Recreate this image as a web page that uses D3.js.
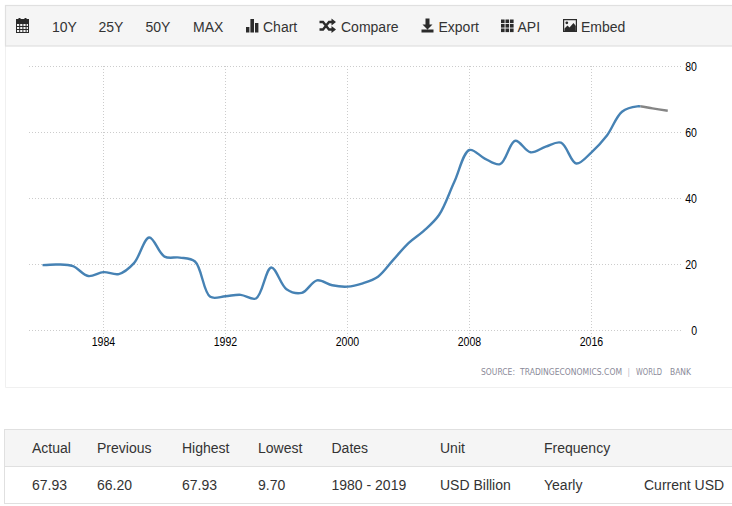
<!DOCTYPE html>
<html><head><meta charset="utf-8">
<script src="https://cdn.jsdelivr.net/npm/d3@7/dist/d3.min.js"></script>
<style>
html,body{margin:0;padding:0;background:#fff;overflow:hidden}
svg{display:block}
text{font-family:"Liberation Sans",Arial,sans-serif}
.axis text{font-family:"Liberation Sans",sans-serif;font-size:12px;fill:#000}
.axis .domain{display:none}
.axis line{stroke:#cccccc;stroke-width:1;stroke-dasharray:1 2}
</style></head><body>
<svg id="c" width="732" height="506"></svg>
<script>
const years = d3.range(1980, 2022);
const values = [19.8,20,19.5,16.5,17.7,17.1,20.4,28.2,22.4,22.1,20.9,10.2,10.4,10.8,9.7,19.1,12.5,11.4,15.2,13.7,13.3,14.3,16.3,21.4,26.5,30.2,35,45,54.7,52.1,50.4,57.5,54,55.7,56.9,50.6,54,59,66.3,67.93,67.3,66.6];
const lastActualYear = 2019;
const xTicks = [1984,1992,2000,2008,2016];
const yTicks = [0,20,40,60,80];
const navItems = ["10Y","25Y","50Y","MAX","Chart","Compare","Export","API","Embed"];
const navX = [52,98.5,145.5,193,263,341,438.5,517.5,581];
const headers = ["Actual","Previous","Highest","Lowest","Dates","Unit","Frequency"];
const cells = ["67.93","66.20","67.93","9.70","1980 - 2019","USD Billion","Yearly","Current USD"];
const colX = [32,97,182,258,331.5,440,544,644];
const sourceParts = ["SOURCE:","TRADINGECONOMICS.COM","|","WORLD","BANK"];
const sourceX = [481,520,628,636,670];
const sourceW = [34,102,1.5,26,21];

const svg = d3.select("#c");
const x = d3.scaleLinear().domain([1984,2016]).range([103.5,591.5]);
const y = d3.scaleLinear().domain([0,80]).range([330.5,66.5]);

// panel
svg.append("path").attr("d","M5.5 46V387.5H732").attr("fill","none").attr("stroke","#f0f0f0");
svg.append("rect").attr("x",5.5).attr("y",5.5).attr("width",730).attr("height",40.5).attr("fill","#f5f5f5").attr("stroke","#e0e0e0").attr("stroke-width",1.2);

// toolbar
svg.selectAll("text.nav").data(navItems).join("text").attr("class","nav")
  .attr("x",(d,i)=>navX[i]).attr("y",31.5).attr("font-size",14).attr("fill","#333").text(d=>d);
const ic = svg.append("g").attr("fill","#2b2b2b");
// calendar
ic.append("path").attr("fill-rule","evenodd").attr("d","M16 19h13v14H16zM17 24v2h2.2v-2zM20.2 24v2h2.2v-2zM23.4 24v2h2.2v-2zM26.6 24v2H28v-2zM17 27v2h2.2v-2zM20.2 27v2h2.2v-2zM23.4 27v2h2.2v-2zM26.6 27v2H28v-2zM17 30v2h2.2v-2zM20.2 30v2h2.2v-2zM23.4 30v2h2.2v-2zM26.6 30v2H28v-2z");
ic.append("path").attr("d","M18.5 18h2v2h-2zM24.5 18h2v2h-2z");
// bars
ic.append("path").attr("d","M246 27h3.4v5.5h-3.4zM250.4 19h3.6v13.5h-3.6zM255 23h3.4v9.5h-3.4z");
// shuffle
ic.append("path").attr("fill","none").attr("stroke","#2b2b2b").attr("stroke-width",2.4).attr("d","M319.5 22h3.5l6 7.5h3M319.5 29.5h3.5l6-7.5h3");
ic.append("path").attr("d","M331.5 18.5l4.5 3.5-4.5 3.5zM331.5 26l4.5 3.5-4.5 3.5z");
// download
ic.append("path").attr("d","M425.5 18.5h4v6h3l-5 5-5-5h3zM421.5 29.5h12v3h-12z");
// grid icon
const th = ic.append("g");
[0,1,2].forEach(r=>[0,1,2].forEach(c=>th.append("rect").attr("x",501+c*4.5).attr("y",19.5+r*4.5).attr("width",3.6).attr("height",3.6)));
// image icon
ic.append("path").attr("fill-rule","evenodd").attr("d","M563 19h14v13h-14zM564.2 20.2v10.6h11.6v-10.6z");
ic.append("path").attr("d","M564.5 31v-2.5l3-3 2 2 4-4.5 2.3 3v5z");
ic.append("circle").attr("cx",566.8).attr("cy",22.8).attr("r",1.4);

// axes
const gx = svg.append("g").attr("class","axis").attr("transform","translate(0,338)")
  .call(d3.axisBottom(x).tickValues(xTicks).tickFormat(d3.format("d")).tickSize(272).tickSizeOuter(0).offset(0));
gx.selectAll("line").attr("transform","translate(0,-272)");
gx.selectAll("text").attr("y",-0.5).attr("dy","0.71em").attr("text-anchor","middle").attr("textLength",23.5).attr("lengthAdjust","spacingAndGlyphs");
const gy = svg.append("g").attr("class","axis").attr("transform","translate(681,0)")
  .call(d3.axisLeft(y).tickValues(yTicks).tickSize(654).tickSizeOuter(0).offset(0));
gy.selectAll("text").attr("x",16).attr("y",0.7).attr("text-anchor","end").attr("dy","0.32em")
  .attr("textLength",d=>String(d).length*5.87).attr("lengthAdjust","spacingAndGlyphs");

// line
const line = d3.line().x(d=>x(d[0])).y(d=>y(d[1])).curve(d3.curveCatmullRom.alpha(0.5));
const pts = years.map((d,i)=>[d,values[i]]);
const W = 732, H = 506;
svg.append("clipPath").attr("id","actual").append("rect").attr("x",0).attr("y",0).attr("width",x(lastActualYear)+3).attr("height",H);
svg.append("clipPath").attr("id","forecast").append("rect").attr("x",x(lastActualYear)+3).attr("y",0).attr("width",W).attr("height",H);
svg.append("path").attr("d",line(pts)).attr("clip-path","url(#forecast)")
  .attr("fill","none").attr("stroke","#858585").attr("stroke-width",2.4);
svg.append("path").attr("d",line(pts)).attr("clip-path","url(#actual)")
  .attr("fill","none").attr("stroke","#4682b4").attr("stroke-width",2.4);

// source
svg.selectAll("text.src").data(sourceParts).join("text").attr("class","src")
  .attr("x",(d,i)=>sourceX[i]).attr("y",375).attr("font-size",8).attr("fill","#8a8a98")
  .attr("textLength",(d,i)=>sourceW[i]).attr("lengthAdjust","spacingAndGlyphs")
  .style("font-family","'DejaVu Sans',sans-serif").text(d=>d);

// table
svg.append("rect").attr("x",4.5).attr("y",429.5).attr("width",730).attr("height",37).attr("fill","#f5f5f5").attr("stroke","#e0e0e0");
svg.append("rect").attr("x",4.5).attr("y",466.5).attr("width",730).attr("height",37).attr("fill","#fff").attr("stroke","#e0e0e0");
svg.selectAll("text.th").data(headers).join("text").attr("class","th")
  .attr("x",(d,i)=>colX[i]).attr("y",453).attr("font-size",14).attr("fill","#333").text(d=>d);
svg.selectAll("text.td").data(cells).join("text").attr("class","td")
  .attr("x",(d,i)=>colX[i]).attr("y",490).attr("font-size",14).attr("fill","#333").text(d=>d);
</script></body></html>
